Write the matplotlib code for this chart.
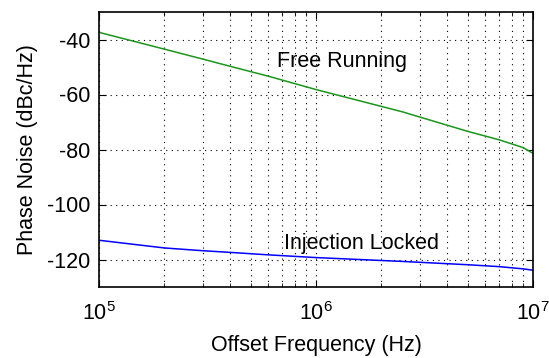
import matplotlib
matplotlib.use("Agg")
import matplotlib.pyplot as plt
from matplotlib.ticker import LogLocator, NullFormatter

plt.rcParams["font.family"] = ["Liberation Sans", "DejaVu Sans"]
plt.rcParams["mathtext.fontset"] = "custom"
plt.rcParams["mathtext.rm"] = "Liberation Sans"
plt.rcParams["mathtext.it"] = "Liberation Sans"
plt.rcParams["axes.unicode_minus"] = False

# offset frequency (Hz) and phase noise (dBc/Hz)
freq = [1e5, 2e5, 3e5, 4e5, 6e5, 1e6, 2.5e6, 5e6, 7e6, 9e6, 1e7]
free_running = [-37.4, -43.5, -47.1, -49.7, -53.3, -58.2, -66.3, -73.4, -76.5, -79.3, -81.4]
injection_locked = [-113.0, -115.8, -116.8, -117.4, -118.3, -119.3, -120.7, -121.9, -122.6, -123.4, -123.9]

fig = plt.figure(figsize=(5.49, 3.58), dpi=100)
ax = fig.add_axes([99 / 549, 1 - 287 / 358, 434 / 549, 275 / 358])

ax.plot(freq, free_running, color="#1a961a", lw=1.1)
ax.plot(freq, injection_locked, color="#0000ff", lw=1.1)

ax.set_xscale("log")
ax.set_xlim(1e5, 1e7)
ax.set_ylim(-130, -30)
ax.set_yticks([-120, -100, -80, -60, -40])
ax.xaxis.set_major_locator(LogLocator(base=10, numticks=10))
ax.xaxis.set_minor_locator(LogLocator(base=10, subs=range(2, 10), numticks=20))
ax.xaxis.set_minor_formatter(NullFormatter())

ax.grid(True, which="both", axis="x", color="black", linestyle=(0, (1, 4)), lw=0.8)
ax.grid(True, which="major", axis="y", color="black", linestyle=(0, (1, 4)), lw=0.8)

ax.tick_params(which="both", direction="in", top=True, right=True, labelsize=15.5)
ax.tick_params(which="major", length=5)
ax.tick_params(which="minor", length=3)
ax.tick_params(axis="x", pad=11)
ax.tick_params(axis="y", pad=6)
for s in ax.spines.values():
    s.set_linewidth(1.2)

ax.text(6.6e5, -48, "Free Running", fontsize=15.5, va="center", ha="left")
ax.text(7.1e5, -114, "Injection Locked", fontsize=15.5, va="center", ha="left")

ax.set_xlabel("Offset Frequency (Hz)", fontsize=15.5, labelpad=7)
ax.set_ylabel("Phase Noise (dBc/Hz)", fontsize=15.5, labelpad=7)

fig.savefig("out.png", dpi=100)
